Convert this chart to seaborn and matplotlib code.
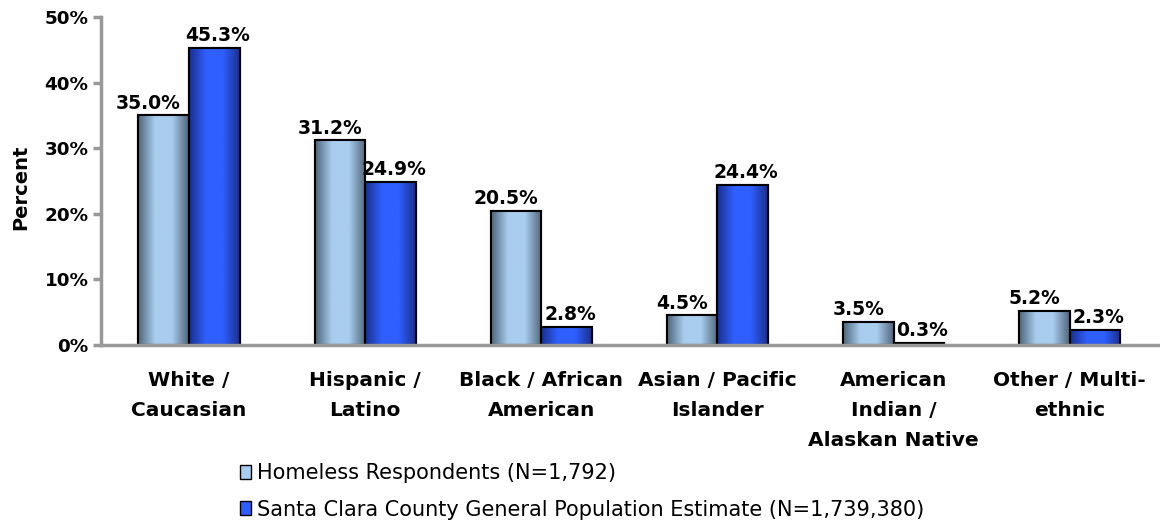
"""Ethnicity of homeless respondents vs county population."""

import numpy as np
import pandas as pd
import seaborn as sb
from matplotlib import pyplot as plt
from matplotlib.colors import LinearSegmentedColormap
from matplotlib.patches import Patch

categories = ["White /\nCaucasian", "Hispanic /\nLatino", "Black / African\nAmerican",
              "Asian / Pacific\nIslander", "American\nIndian /\nAlaskan Native",
              "Other / Multi-\nethnic"]
homeless = [35.0, 31.2, 20.5, 4.5, 3.5, 5.2]
county = [45.3, 24.9, 2.8, 24.4, 0.3, 2.3]
series = ["Homeless Respondents (N=1,792)",
          "Santa Clara County General Population Estimate (N=1,739,380)"]

df = pd.DataFrame({
    "cat": categories * 2,
    "val": homeless + county,
    "grp": [series[0]] * 6 + [series[1]] * 6,
})

sb.set_style("white")
plt.rcParams["font.family"] = ["DejaVu Sans"]
plt.rcParams["text.color"] = "black"
plt.rcParams["xtick.color"] = "black"
plt.rcParams["ytick.color"] = "black"
plt.rcParams["axes.labelcolor"] = "black"

fig = plt.figure(figsize=(11.6, 5.27), dpi=100)
ax = fig.add_axes([0.0871, 0.3454, 0.9109, 0.6223])

colors = ["#a9cdef", "#2f5fff"]
ax = sb.barplot(data=df, x="cat", y="val", hue="grp", palette=colors, width=0.575,
                edgecolor="black", linewidth=1.5, legend=False, ax=ax, saturation=1)

# gradient fill for each bar, dark edges and bright middle
cmaps = [LinearSegmentedColormap.from_list("c1", ["#4f6378", "#a9cdef", "#a9cdef", "#4f6378"]),
         LinearSegmentedColormap.from_list("c2", ["#1a2f8a", "#2f5fff", "#2f5fff", "#1a2f8a"])]
grad = np.linspace(0, 1, 256).reshape(1, -1)
label_shift = [-7, 2.5]  # excel puts the labels a bit off centre (points)
for i, cont in enumerate(ax.containers):
    for bar in cont:
        x0, y0 = bar.get_x(), bar.get_y()
        w, h = bar.get_width(), bar.get_height()
        im = ax.imshow(grad, cmap=cmaps[i], aspect="auto", extent=[x0, x0 + w, y0, y0 + h],
                       zorder=bar.get_zorder() + 0.1)
        im.set_clip_path(bar)
        edge = plt.Rectangle((x0, y0), w, h, fill=False, edgecolor="black", linewidth=1.5,
                             zorder=bar.get_zorder() + 0.2)
        ax.add_patch(edge)
    texts = ax.bar_label(cont, fmt="%.1f%%", padding=2, fontsize=13.5, fontweight="bold")
    for t in texts:
        t.xyann = (label_shift[i], 2)
# the first label sits further left so it clears the taller bar next to it
texts_first = ax.texts[0]
texts_first.xyann = (-11, 2)

ax.set_xlim(-0.5, 5.5)
ax.set_ylim(0, 50)
ax.set_yticks(range(0, 51, 10))
ax.set_yticklabels([f"{v}%" for v in range(0, 51, 10)], fontsize=13.2, fontweight="bold")
ax.set_xticks(range(6))
ax.set_xticklabels(categories, fontsize=14.5, fontweight="bold", linespacing=1.72)
ax.set_xticks(np.arange(-0.5, 6, 1), minor=True)
ax.tick_params(axis="x", which="major", length=0, pad=19)
ax.tick_params(axis="x", which="minor", length=5, width=2.5, color="#999999", direction="out")
ax.tick_params(axis="y", length=6, width=2.5, color="#999999", direction="out", pad=3, left=True)
ax.set_xlabel("")
ax.set_ylabel("Percent", fontsize=14, fontweight="bold")
ax.yaxis.set_label_coords(-0.067, 0.48)

for side in ["top", "right"]:
    ax.spines[side].set_visible(False)
for side in ["left", "bottom"]:
    ax.spines[side].set_color("#999999")
    ax.spines[side].set_linewidth(2.5)

handles = [Patch(facecolor=colors[0], edgecolor="black"),
           Patch(facecolor=colors[1], edgecolor="black")]
fig.legend(handles, series, loc="upper left", bbox_to_anchor=(240 / 1160, 1 - 463 / 527),
           frameon=False, fontsize=15, handlelength=0.55, handleheight=0.65, handletextpad=0.25,
           labelspacing=0.8, borderaxespad=0, borderpad=0)

fig.savefig("out.png", dpi=100)
